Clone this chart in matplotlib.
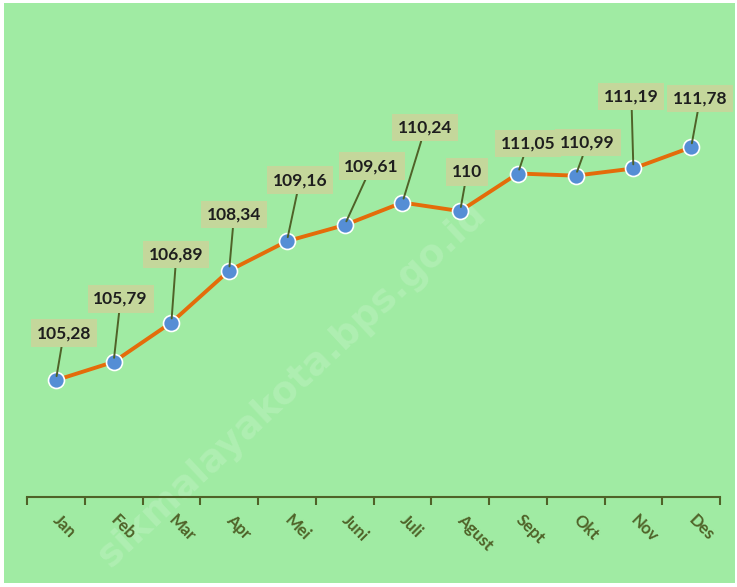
import matplotlib.pyplot as plt
from matplotlib.patches import Rectangle

months = ["Jan", "Feb", "Mar", "Apr", "Mei", "Juni", "Juli", "Agust", "Sept", "Okt", "Nov", "Des"]
values = [105.28, 105.79, 106.89, 108.34, 109.16, 109.61, 110.24, 110.00, 111.05, 110.99, 111.19, 111.78]
labels = ["105,28", "105,79", "106,89", "108,34", "109,16", "109,61", "110,24", "110", "111,05", "110,99", "111,19", "111,78"]

# label box offsets (pixels) from each point
offsets = [(8, 47), (7, 63), (5, 68), (5, 56), (13, 61), (27, 59),
           (23, 75), (7, 39), (10, 30), (12, 33), (-2, 72), (9, 49)]

bg = "#A0EBA3"
olive = "#4F6228"

W, H = 737, 587
fig = plt.figure(figsize=(7.37, 5.87), dpi=100)
fig.patch.set_facecolor("white")
fig.patches.append(Rectangle((4 / W, 4 / H), 731 / W, 580 / H,
                             transform=fig.transFigure, facecolor=bg,
                             edgecolor="none", zorder=-10))

# watermark
fig.text(292 / W, 1 - 385 / H, "sikmalayakota.bps.go.id", rotation=43,
         ha="center", va="center", fontsize=27, fontweight="bold",
         color="white", alpha=0.16, zorder=-5)

ax = fig.add_axes([27 / W, 1 - 497 / H, 693 / W, (497 - 32) / H])
ax.set_facecolor("none")

x = list(range(len(months)))
ax.plot(x, values, color="#E46C0A", lw=2.8, zorder=3)
ax.plot(x, values, "o", ms=11.5, mfc="#558ED5", mec="white", mew=1.2, zorder=4)

for xi, v, lab, (dx, dy) in zip(x, values, labels, offsets):
    ax.annotate(lab, (xi, v), xytext=(dx, dy), textcoords="offset pixels",
                ha="center", va="center", fontsize=12.5, fontweight="bold",
                family="Lato", color="#1E1E1E",
                bbox=dict(boxstyle="square,pad=0.33", fc="#C4D79B", ec="none"),
                arrowprops=dict(arrowstyle="-", color=olive, lw=1.4,
                                shrinkA=0, shrinkB=3),
                zorder=5)

ax.set_xlim(-0.5, len(months) - 0.5)
ax.set_ylim(102.02, 115)

for s in ["top", "right", "left"]:
    ax.spines[s].set_visible(False)
ax.spines["bottom"].set_color(olive)
ax.spines["bottom"].set_linewidth(1.5)
ax.set_yticks([])

ax.set_xticks(x)
ax.set_xticklabels(months, rotation=-45, ha="left", va="center",
                   rotation_mode="anchor", fontsize=12, fontweight="bold",
                   family="Lato", color=olive)
ax.tick_params(axis="x", which="major", length=0, pad=15)
ax.set_xticks([i - 0.5 for i in range(len(months) + 1)], minor=True)
ax.tick_params(axis="x", which="minor", length=6, width=1.5, color=olive)

fig.savefig("out.png", dpi=100, facecolor=fig.get_facecolor())
